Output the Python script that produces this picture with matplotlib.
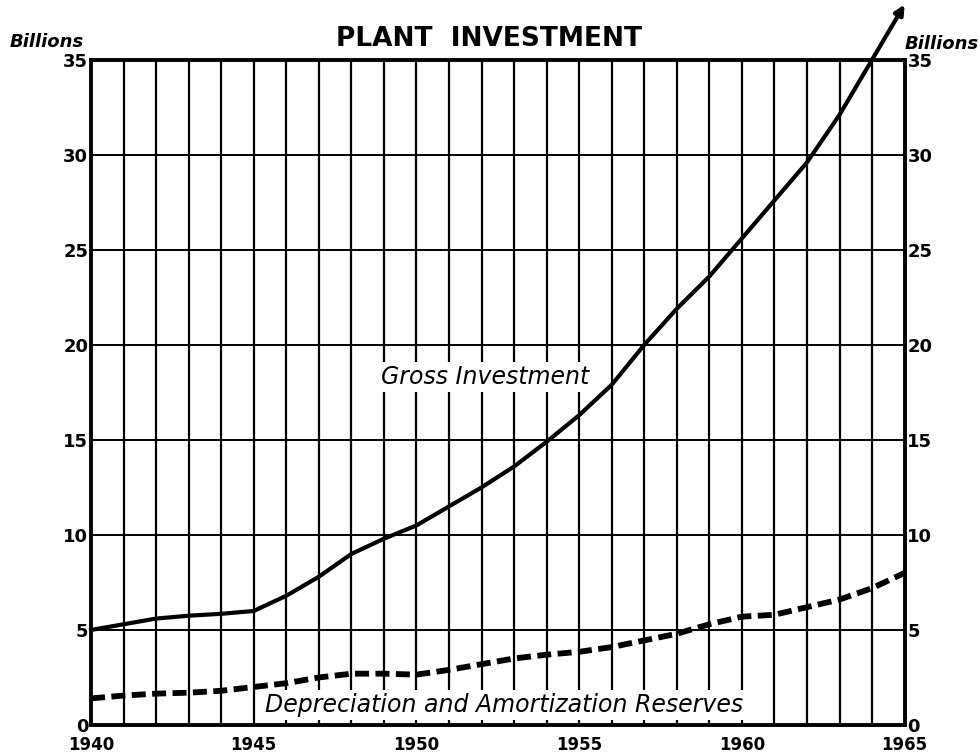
import matplotlib
matplotlib.use("Agg")
import matplotlib.pyplot as plt
import numpy as np

years = list(range(1940, 1966))
gross = [5.0, 5.3, 5.6, 5.75, 5.85, 6.0, 6.8, 7.8, 9.0, 9.8, 10.5, 11.5, 12.5, 13.6,
         14.9, 16.3, 17.9, 20.0, 21.9, 23.6, 25.6, 27.6, 29.6, 32.1, 35.0, 37.9]
depreciation = [1.4, 1.55, 1.65, 1.7, 1.8, 2.0, 2.2, 2.5, 2.7, 2.7, 2.65, 2.9, 3.2, 3.5,
                3.7, 3.85, 4.1, 4.45, 4.8, 5.3, 5.7, 5.8, 6.2, 6.6, 7.2, 8.0]
y_ticks = [0, 5, 10, 15, 20, 25, 30, 35]
x_ticks = [1940, 1945, 1950, 1955, 1960, 1965]

fig = plt.figure(figsize=(9.79, 7.56), dpi=100)
ax = fig.add_axes([0.093, 0.041, 0.831, 0.880])
ax.set_xlim(1940, 1965)
ax.set_ylim(0, 35)

for yr in years:
    ax.axvline(yr, color='black', lw=1.6, zorder=1)
for v in y_ticks:
    ax.axhline(v, color='black', lw=1.4, zorder=1)

ax.plot(years[:-1], gross[:-1], color='black', lw=3, zorder=3, clip_on=False,
        solid_joinstyle='round')
ax.annotate('', xy=(years[-1], gross[-1]), xytext=(years[-2], gross[-2]),
            arrowprops=dict(arrowstyle='-|>', color='black', lw=3, mutation_scale=14,
                            shrinkA=0, shrinkB=0),
            annotation_clip=False, zorder=3)
ax.plot(years, depreciation, color='black', lw=4.2, ls=(0, (2.4, 1.1)), zorder=3, clip_on=False)

for s in ax.spines.values():
    s.set_linewidth(2.8)

ax.set_xticks(x_ticks)
ax.set_yticks(y_ticks)
ax.tick_params(length=0, labelsize=13)
ax.tick_params(axis='y', pad=2, right=True, labelright=True)
ax.tick_params(axis='x', pad=8, labelsize=12)
for lab in ax.get_xticklabels():
    lab.set_fontweight('bold')
for t in ax.yaxis.get_major_ticks():
    t.label1.set_fontweight('bold')
    t.label2.set_fontweight('bold')

fig.text(0.5, 0.948, 'PLANT  INVESTMENT', ha='center', va='center', fontsize=19, fontweight='bold')
fig.text(0.048, 0.945, 'Billions', ha='center', va='center', fontsize=13, style='italic', fontweight='bold')
fig.text(0.962, 0.942, 'Billions', ha='center', va='center', fontsize=13, style='italic', fontweight='bold')

ax.text(1952.1, 18.3, 'Gross Investment', ha='center', va='center', fontsize=17, style='italic',
        zorder=4, bbox=dict(facecolor='white', edgecolor='none', pad=2))
ax.text(1952.7, 1.05, 'Depreciation and Amortization Reserves', ha='center', va='center', fontsize=17,
        style='italic', zorder=4, bbox=dict(facecolor='white', edgecolor='none', pad=2))

fig.savefig('out.png', dpi=100)
